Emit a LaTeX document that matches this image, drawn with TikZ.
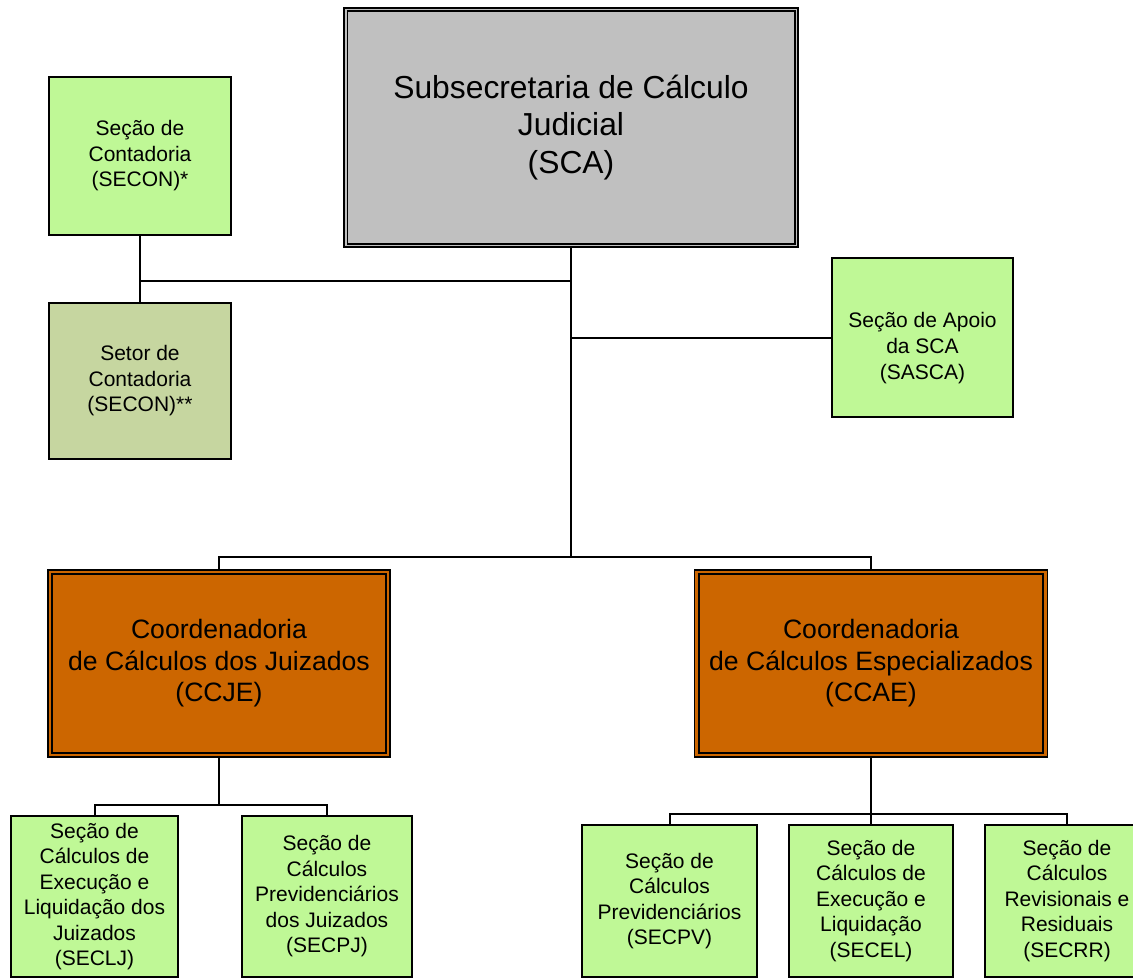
\documentclass[tikz,border=0pt]{standalone}
\usepackage{fontspec}
\setmainfont{Liberation Sans}
\definecolor{lgreen}{RGB}{191,248,150}
\definecolor{olive}{RGB}{198,214,160}
\definecolor{sgray}{RGB}{192,192,192}
\definecolor{corange}{RGB}{204,102,0}
\tikzset{
  conn/.style={line width=2pt, line cap=rect},
  gbox/.style={draw, line width=1.8pt, fill=lgreen, rectangle, inner sep=0pt, align=center,
    font=\fontsize{21}{25.5}\selectfont},
  obox/.style={draw, line width=1.5pt, fill=corange, rectangle, inner sep=0pt, align=center,
    font=\fontsize{26.6}{31.5}\selectfont},
  topbox/.style={draw, line width=2.5pt, fill=sgray, rectangle, inner sep=0pt, align=center,
    font=\fontsize{31.8}{37.5}\selectfont},
  txt/.style={align=center, inner sep=0pt, font=\fontsize{21}{26}\selectfont},
}
\begin{document}
\begin{tikzpicture}[x=1pt, y=-1pt]
\clip (0,0) rectangle (1133,979);
\fill[white] (0,0) rectangle (1133,979);

% top box
\node[topbox, minimum width=454pt, minimum height=239pt] (sca) at (571,127.5)
  {Subsecretaria de Cálculo\\Judicial\\(SCA)};
\draw[line width=1.5pt] ([shift={(4.5pt,-4.5pt)}]sca.north west) rectangle ([shift={(-4.5pt,4.5pt)}]sca.south east);

% left upper boxes
\node[gbox, minimum width=182pt, minimum height=158pt] (secon) at (140,156)
  {Seção de\\Contadoria\\(SECON)*};
\node[gbox, fill=olive, minimum width=182pt, minimum height=156pt] (setor) at (140,381)
  {Setor de\\Contadoria\\(SECON)**};

% right support box
\node[gbox, minimum width=181pt, minimum height=159pt] (sasca) at (922.5,337.5) {};
\node[txt] (saschtxt) at (922.5,348) {Seção de Apoio\\da SCA\\(SASCA)};

% coordinators
\node[obox, minimum width=342pt, minimum height=187pt] (ccje) at (219,663.5)
  {Coordenadoria\\de Cálculos dos Juizados\\(CCJE)};
\draw[line width=1.7pt] ([shift={(5pt,-5pt)}]ccje.north west) rectangle ([shift={(-5pt,5pt)}]ccje.south east);
\node[obox, minimum width=353pt, minimum height=187pt] (ccae) at (871,663.5)
  {Coordenadoria\\de Cálculos Especializados\\(CCAE)};
\draw[line width=1.7pt] ([shift={(5pt,-5pt)}]ccae.north west) rectangle ([shift={(-5pt,5pt)}]ccae.south east);

% bottom boxes
\node[gbox, minimum width=167pt, minimum height=161pt] (seclj) at (94.5,896.5)
  {Seção de\\Cálculos de\\Execução e\\Liquidação dos\\Juizados\\(SECLJ)};
\node[gbox, minimum width=170pt, minimum height=161pt] (secpj) at (327,896.5)
  {Seção de\\Cálculos\\Previdenciários\\dos Juizados\\(SECPJ)};
\node[gbox, minimum width=175pt, minimum height=152pt] (secpv) at (669.5,901)
  {Seção de\\Cálculos\\Previdenciários\\(SECPV)};
\node[gbox, minimum width=164pt, minimum height=152pt] (secel) at (871,901)
  {Seção de\\Cálculos de\\Execução e\\Liquidação\\(SECEL)};
\node[gbox, minimum width=164pt, minimum height=152pt] (secrr) at (1067,901)
  {Seção de\\Cálculos\\Revisionais e\\Residuais\\(SECRR)};

% junction coordinates
\coordinate (bar1) at (571,557);
\coordinate (j2) at (571,281);
\coordinate (bar2) at (219,805);
\coordinate (bar3) at (871,814);

% connectors
\draw[conn] (sca.south) -- (bar1);
\draw[conn] (ccje.north) |- (bar1) -| (ccae.north);
\draw[conn] (secon.south) -- (setor.north);
\draw[conn] (secon.south |- j2) -- (j2);
\draw[conn] (sasca.west) -- (sasca.west -| sca.south);
\draw[conn] (ccje.south) -- (bar2);
\draw[conn] (seclj.north) |- (bar2) -| (secpj.north);
\draw[conn] (ccae.south) -- (bar3);
\draw[conn] (secpv.north) |- (bar3) -| (secrr.north);
\draw[conn] (secel.north) -- (bar3);
\end{tikzpicture}
\end{document}
